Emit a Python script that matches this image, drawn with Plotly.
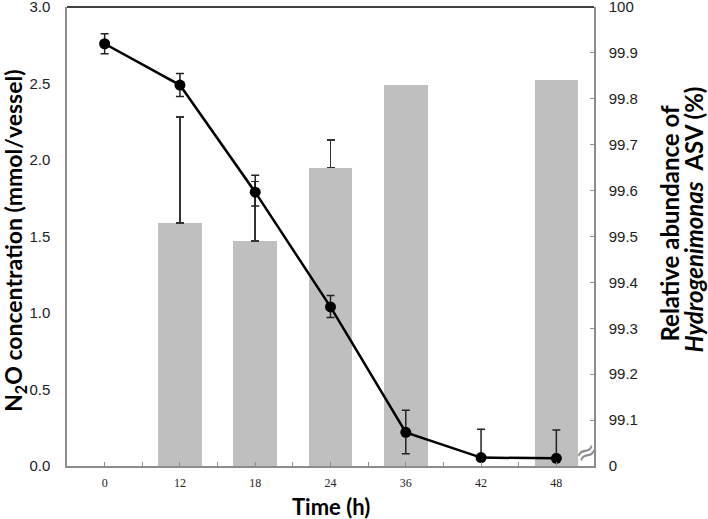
import plotly.graph_objects as go

# ---- data ----
time_labels = ["0", "12", "18", "24", "36", "42", "48"]
x_idx = list(range(len(time_labels)))

n2o = [2.76, 2.49, 1.79, 1.04, 0.22, 0.055, 0.05]
n2o_err_up = [0.065, 0.075, 0.11, 0.075, 0.145, 0.185, 0.185]
n2o_err_down = [0.065, 0.075, 0.09, 0.07, 0.14, 0.0, 0.0]

abundance = [None, 99.53, 99.49, 99.65, 99.83, None, 99.84]
abundance_err = [None, 0.23, 0.13, 0.06, None, None, None]

right_tick_vals = [99.0, 99.1, 99.2, 99.3, 99.4, 99.5, 99.6, 99.7, 99.8, 99.9, 100.0]
right_tick_text = ["0", "99.1", "99.2", "99.3", "99.4", "99.5", "99.6", "99.7", "99.8", "99.9", "100"]
left_tick_vals = [0.0, 0.5, 1.0, 1.5, 2.0, 2.5, 3.0]

x_title = "Time (h)"
left_title = "N<sub>2</sub>O concentration (mmol/vessel)"
right_title_1 = "Relative abundance of"
right_title_2 = "<i>Hydrogenimonas</i>  ASV (%)"

AXIS_GRAY = "#8c8c8c"
TITLE_FONT = dict(family="Lato, 'Open Sans', sans-serif", size=24, color="black", weight="bold")
LEFT_TITLE_FONT = dict(TITLE_FONT, size=23)
X_TITLE_FONT = dict(TITLE_FONT, size=22)
NUM_FONT = dict(family="'Liberation Sans', Arial, sans-serif", size=15, color="#222222")

# split bars into those with and without an error bar
with_err = [i for i in x_idx if abundance[i] is not None and abundance_err[i] is not None]
no_err = [i for i in x_idx if abundance[i] is not None and abundance_err[i] is None]

fig = go.Figure()

fig.add_trace(go.Bar(
    x=with_err, y=[abundance[i] for i in with_err], yaxis="y",
    marker=dict(color="#bfbfbf", line=dict(width=0)),
    width=0.58,
    error_y=dict(type="data", array=[abundance_err[i] for i in with_err],
                 arrayminus=[0 for _ in with_err],
                 symmetric=False, color="#333333", thickness=1.5, width=4),
    showlegend=False,
))
fig.add_trace(go.Bar(
    x=no_err, y=[abundance[i] for i in no_err], yaxis="y",
    marker=dict(color="#bfbfbf", line=dict(width=0)),
    width=0.58,
    showlegend=False,
))

fig.add_trace(go.Scatter(
    x=x_idx, y=n2o, yaxis="y2", mode="lines+markers",
    line=dict(color="black", width=2.5),
    marker=dict(color="black", size=11),
    error_y=dict(type="data", array=n2o_err_up, arrayminus=n2o_err_down,
                 symmetric=False, color="#222222", thickness=1.5, width=4),
    showlegend=False,
))

fig.update_layout(
    width=708, height=519,
    margin=dict(l=67, r=114, t=7, b=53),
    plot_bgcolor="white", paper_bgcolor="white",
    bargap=0, barmode="overlay",
    xaxis=dict(
        range=[-0.5, 6.5], tickmode="array", tickvals=x_idx, ticktext=time_labels,
        showgrid=False, zeroline=False, automargin=False,
        showline=True, linecolor=AXIS_GRAY, linewidth=1.5,
        ticks="inside", ticklen=4, tickcolor=AXIS_GRAY,
        minor=dict(tickmode="array", tickvals=[i + 0.5 for i in x_idx[:-1]],
                   ticks="inside", ticklen=4, tickcolor=AXIS_GRAY),
        tickfont=dict(family="'Liberation Serif', 'Times New Roman', serif", size=12, color="#222222"),
        ticklabelstandoff=5,
    ),
    yaxis=dict(
        side="right", range=[99.0, 100.0001],
        tickmode="array", tickvals=right_tick_vals, ticktext=right_tick_text,
        showgrid=False, zeroline=False, automargin=False,
        showline=True, linecolor=AXIS_GRAY, linewidth=1.5,
        ticks="inside", ticklen=4, tickcolor=AXIS_GRAY,
        tickfont=NUM_FONT, ticklabelstandoff=10, ticklabeloverflow="allow",
    ),
    yaxis2=dict(
        overlaying="y", side="left", anchor="x", range=[0, 3.0003],
        tickmode="array", tickvals=left_tick_vals, tickformat=".1f",
        showgrid=False, zeroline=False, automargin=False,
        showline=True, linecolor=AXIS_GRAY, linewidth=1.5,
        ticks="", tickfont=NUM_FONT, ticklabelstandoff=12, ticklabeloverflow="allow",
    ),
    shapes=[dict(type="line", xref="paper", yref="paper", x0=0, x1=1, y0=1, y1=1,
                 line=dict(color="black", width=1.5))],
    annotations=[
        dict(text="≈", xref="paper", yref="y", x=1.0, y=99.03, xshift=12, showarrow=False,
             textangle=-30, font=dict(family="DejaVu Sans", size=26, color=AXIS_GRAY)),
        dict(text=x_title, xref="paper", yref="paper", x=0.5, y=-0.0893,
             xanchor="center", yanchor="middle", showarrow=False, font=X_TITLE_FONT),
        dict(text=left_title, xref="paper", yref="paper", x=-0.101, y=0.49, textangle=-90,
             xanchor="center", yanchor="middle", showarrow=False, font=LEFT_TITLE_FONT),
        dict(text=right_title_1, xref="paper", yref="paper", x=1.143, y=0.529, textangle=-90,
             xanchor="center", yanchor="middle", showarrow=False, font=TITLE_FONT),
        dict(text=right_title_2, xref="paper", yref="paper", x=1.189, y=0.536, textangle=-90,
             xanchor="center", yanchor="middle", showarrow=False, font=TITLE_FONT),
    ],
)

fig.write_html("out.html", config={"displayModeBar": False},
               post_script="document.body.style.margin='0';")
